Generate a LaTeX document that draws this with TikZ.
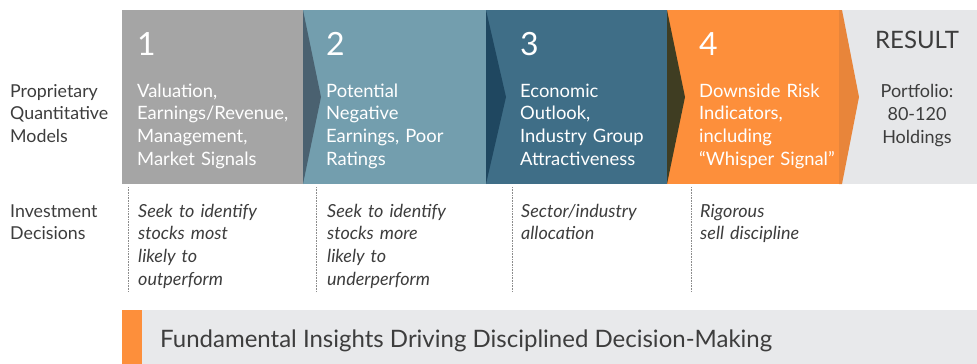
\documentclass[tikz,border=0pt]{standalone}
\usepackage{fontspec}
\setmainfont{Lato}
\usetikzlibrary{positioning}

\definecolor{stepone}{HTML}{A5A5A5}
\definecolor{steptwo}{HTML}{739EAE}
\definecolor{stepthree}{HTML}{3F6E87}
\definecolor{stepfour}{HTML}{FD8F3B}
\definecolor{tipone}{HTML}{4A6170}
\definecolor{tiptwo}{HTML}{1F4760}
\definecolor{tipthree}{HTML}{3F3D22}
\definecolor{tipfour}{HTML}{E8853A}
\definecolor{resultgray}{HTML}{E6E7E9}
\definecolor{bargray}{HTML}{E8E9EB}
\definecolor{textgray}{HTML}{3D3D3D}
\definecolor{sepgray}{HTML}{8C8C8C}

\begin{document}
\begin{tikzpicture}[x=1pt, y=-1pt,
                numnode/.style={anchor=base west, inner sep=0pt, text=white, font=\fontsize{32}{36}\selectfont},
                descnode/.style={anchor=base west, inner sep=0pt, text width=175pt, align=left, text=white, font=\fontsize{18.4}{22.7}\selectfont},
                decnode/.style={anchor=base west, inner sep=0pt, text width=175pt, align=left, text=textgray, font=\fontsize{18}{22.7}\selectfont\itshape},
                rownode/.style={anchor=base west, inner sep=0pt, text width=110pt, align=left, text=textgray, font=\fontsize{17.8}{22.7}\selectfont},
                resultnode/.style={anchor=base, inner sep=0pt, text width=130pt, align=center, text=textgray, font=\fontsize{18}{23.3}\selectfont},
                sepline/.style={sepgray, densely dotted, line width=0.6pt},
            ]
            \useasboundingbox (0,0) rectangle (977,364);

            % Bar
            \fill[stepone]    (122,10) rectangle (303,184);
            \fill[steptwo]    (303,10) rectangle (486,184);
            \fill[stepthree]  (486,10) rectangle (667,184);
            \fill[stepfour]   (667,10) rectangle (842,184);
            \fill[resultgray] (842,10) rectangle (977,184);

            \fill[tipone]   (303,10) -- (321,97) -- (303,184) -- cycle;
            \fill[tiptwo]   (486,10) -- (506,97) -- (486,184) -- cycle;
            \fill[tipthree] (667,10) -- (685,97) -- (667,184) -- cycle;
            \fill[tipfour]  (839,10) -- (842,10) -- (859,97) -- (842,184) -- (839,184) -- cycle;

            % Row labels
            \node[rownode] (models)    at (10,97)  {Proprietary\\Quantitative\\Models};
            \node[rownode] (decisions) at (10,217) {Investment\\Decisions};

            % Nodes
            \node[numnode]  (num_1)  at (137,55) {1};
            \node[descnode] (desc_1) [below=42pt of num_1.base west, anchor=base west] {Valuation,\\Earnings/Revenue,\\Management,\\Market Signals};

            \node[numnode]  (num_2)  at (326,55) {2};
            \node[descnode] (desc_2) [below=42pt of num_2.base west, anchor=base west] {Potential\\Negative\\Earnings, Poor\\Ratings};

            \node[numnode]  (num_3)  at (520,55) {3};
            \node[descnode] (desc_3) [below=42pt of num_3.base west, anchor=base west] {Economic\\Outlook,\\Industry Group\\Attractiveness};

            \node[numnode]  (num_4)  at (699,55) {4};
            \node[descnode] (desc_4) [below=42pt of num_4.base west, anchor=base west] {Downside Risk\\Indicators,\\including\\“Whisper Signal”};

            \node[resultnode, font=\fontsize{24}{28}\selectfont] (result) at (917,48) {RESULT};
            \node[resultnode] (portfolio) at (917,97) {Portfolio:\\80-120\\Holdings};

            % Decisions
            \node[decnode] (dec_1) at (138,217) {Seek to identify\\stocks most\\likely to\\outperform};
            \node[decnode] (dec_2) at (327,217) {Seek to identify\\stocks more\\likely to\\underperform};
            \node[decnode] (dec_3) at (521,217) {Sector/industry\\allocation};
            \node[decnode] (dec_4) at (700,217) {Rigorous\\sell discipline};

            \foreach \x in {128,316,512,691}
                \draw[sepline] (\x,187) -- (\x,292);

            % Bottom bar
            \fill[bargray]  (122,310) rectangle (977,364);
            \fill[stepfour] (122,310) rectangle (142,364);
            \node[anchor=base west, inner sep=0pt, text=textgray, font=\fontsize{24}{28}\selectfont] (insights) at (160,347) {Fundamental Insights Driving Disciplined Decision-Making};
        \end{tikzpicture}
\end{document}
